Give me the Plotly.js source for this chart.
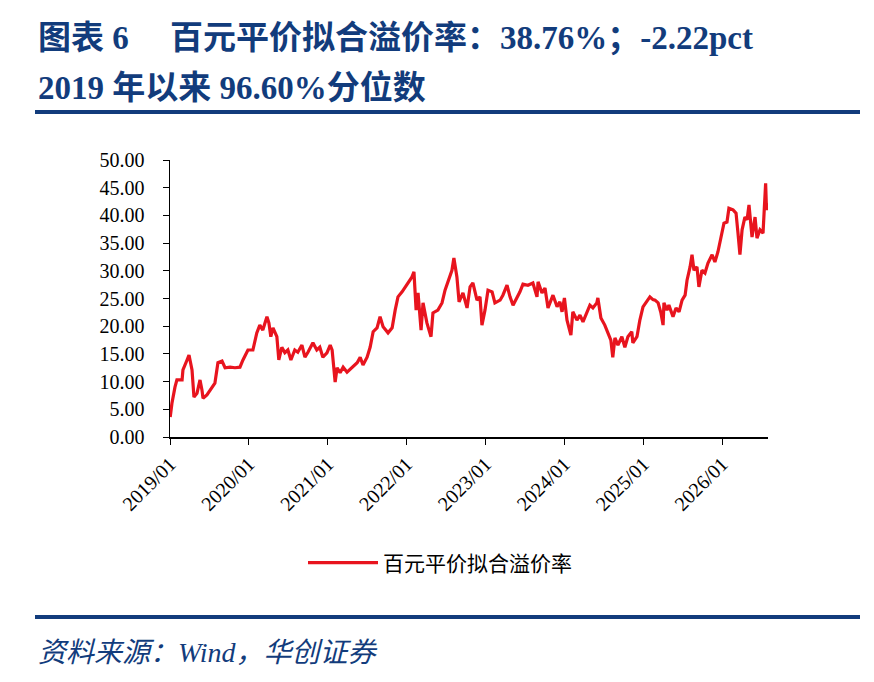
<!DOCTYPE html>
<html>
<head>
<meta charset="utf-8">
<script src="https://cdn.plot.ly/plotly-3.0.1.min.js"></script>
<style>
  html, body { margin: 0; padding: 0; background: #fff; }
  #chart { width: 874px; height: 682px; }
</style>
</head>
<body>
<div id="chart"></div>
<script>
// 百元平价拟合溢价率 (%)
const dates = [
  "2019-01-02","2019-01-10","2019-01-24","2019-02-02","2019-02-26","2019-03-02","2019-03-21","2019-03-30",
  "2019-04-13","2019-04-22","2019-05-06","2019-05-20","2019-05-29","2019-06-03","2019-06-21","2019-07-14",
  "2019-07-28","2019-08-11","2019-08-30","2019-09-13","2019-10-06","2019-10-29","2019-11-21","2019-12-05",
  "2019-12-28","2020-01-20","2020-02-07","2020-02-21","2020-03-06","2020-03-25","2020-04-03","2020-04-12",
  "2020-04-22","2020-05-10","2020-05-19","2020-06-02","2020-06-16","2020-06-30","2020-07-14","2020-08-01",
  "2020-08-15","2020-09-03","2020-09-17","2020-10-01","2020-10-24","2020-11-11","2020-11-25","2020-12-09",
  "2020-12-28","2021-01-12","2021-01-21","2021-02-04","2021-02-13","2021-02-27","2021-03-13","2021-03-31",
  "2021-04-23","2021-05-17","2021-05-31","2021-06-13","2021-07-02","2021-07-16","2021-07-30","2021-08-17",
  "2021-08-31","2021-09-14","2021-10-07","2021-10-26","2021-11-09","2021-11-22","2021-12-11","2021-12-24",
  "2022-01-07","2022-01-26","2022-02-04","2022-02-14","2022-02-23","2022-03-09","2022-03-18","2022-04-05",
  "2022-04-24","2022-05-03","2022-05-26","2022-06-14","2022-06-28","2022-07-12","2022-07-30","2022-08-08",
  "2022-08-22","2022-09-01","2022-09-19","2022-10-08","2022-10-22","2022-11-04","2022-11-23","2022-12-07",
  "2022-12-16","2022-12-30","2023-01-13","2023-02-01","2023-02-14","2023-03-10","2023-03-23","2023-04-11",
  "2023-04-25","2023-05-09","2023-05-27","2023-06-10","2023-06-24","2023-07-17","2023-08-09","2023-08-28",
  "2023-09-02","2023-09-20","2023-10-04","2023-10-18","2023-11-10","2023-11-29","2023-12-12","2023-12-22",
  "2024-01-02","2024-01-14","2024-02-01","2024-02-10","2024-02-29","2024-03-14","2024-03-28","2024-04-15",
  "2024-04-29","2024-05-13","2024-05-31","2024-06-05","2024-06-19","2024-07-07","2024-07-21","2024-08-04",
  "2024-08-13","2024-08-23","2024-09-06","2024-09-24","2024-10-08","2024-10-22","2024-11-09","2024-11-14",
  "2024-12-03","2024-12-16","2024-12-31","2025-01-19","2025-02-01","2025-02-15","2025-02-25","2025-03-11",
  "2025-03-24","2025-04-03","2025-04-07","2025-04-21","2025-04-30","2025-05-19","2025-06-02","2025-06-16",
  "2025-06-30","2025-07-14","2025-07-23","2025-08-06","2025-08-15","2025-08-24","2025-09-07","2025-09-16",
  "2025-09-30","2025-10-14","2025-10-28","2025-11-16","2025-11-29","2025-12-13","2026-01-01","2026-01-10",
  "2026-01-24","2026-02-02","2026-02-21","2026-03-07","2026-03-16","2026-03-25","2026-04-04","2026-04-17",
  "2026-04-27","2026-05-06","2026-05-20","2026-06-03","2026-06-12","2026-06-26","2026-07-10","2026-07-14",
  "2026-07-22","2026-07-26","2026-08-01"
];

const premium = [
  3.6, 6.1, 9.0, 10.3, 10.3, 12.1, 13.9, 14.8,
  12.1, 7.2, 7.9, 10.3, 8.5, 7.0, 7.6, 9.0,
  9.7, 13.4, 13.7, 12.5, 12.6, 12.5, 12.6, 13.9,
  15.7, 15.7, 18.8, 20.2, 19.3, 21.7, 20.6, 18.1,
  19.7, 18.1, 13.9, 16.2, 15.2, 15.7, 13.9, 15.7,
  15.3, 16.6, 14.4, 15.3, 17.0, 15.7, 16.2, 14.4,
  15.2, 16.6, 15.7, 9.9, 12.5, 11.6, 12.6, 11.7,
  12.5, 13.4, 14.4, 13.0, 14.4, 16.2, 19.0, 19.7,
  21.7, 19.9, 18.8, 19.7, 22.9, 25.3, 26.2, 26.9,
  27.8, 28.9, 29.8, 22.9, 26.0, 19.3, 24.2, 20.6,
  18.1, 22.4, 22.9, 24.2, 26.5, 28.0, 30.1, 32.3,
  28.9, 24.4, 26.0, 23.3, 27.1, 27.8, 24.7, 25.3,
  20.2, 22.9, 26.5, 26.2, 24.2, 24.7, 25.6, 27.4,
  25.3, 23.8, 25.1, 26.2, 27.6, 27.4, 27.8, 25.3,
  28.0, 26.0, 26.9, 23.3, 25.6, 23.5, 24.4, 22.6,
  25.1, 21.1, 18.4, 22.6, 21.1, 22.0, 20.8, 22.4,
  23.8, 23.3, 24.2, 25.1, 21.5, 20.2, 19.0, 17.5,
  14.4, 17.9, 16.6, 18.1, 16.2, 18.1, 19.0, 17.0,
  18.1, 21.0, 23.5, 24.7, 25.3, 24.8, 24.7, 24.2,
  22.4, 20.2, 24.2, 22.9, 23.8, 21.7, 23.3, 22.6,
  24.7, 25.6, 28.3, 30.7, 32.9, 30.1, 30.7, 27.1,
  30.1, 29.6, 31.4, 32.9, 31.6, 33.4, 36.8, 38.6,
  38.8, 41.3, 41.0, 40.4, 36.8, 32.9, 37.4, 39.7,
  39.2, 41.9, 36.1, 39.7, 35.9, 37.4, 36.8, 40.4,
  45.8, 41.0, 42.2
];

const seriesName = "百元平价拟合溢价率";
const titleLine1 = "图表 6　 百元平价拟合溢价率：38.76%；-2.22pct";
const titleLine2 = "2019 年以来 96.60%分位数";
const sourceText = "资料来源：Wind，华创证券";

// plot area in pixels: x 170..768, y 160..437
const L = 170, R = 768, T = 160, B = 437;
const px = v => (v - L) / (R - L);
const py = v => (B - v) / (B - T);

const navy = "#123c7c";
const serif = "'Liberation Serif', 'Times New Roman', 'Noto Sans CJK SC', serif";

const trace = {
  x: dates,
  y: premium,
  name: seriesName,
  type: "scatter",
  mode: "lines",
  line: { color: "#e8141e", width: 3.2 }
};

const layout = {
  width: 874,
  height: 682,
  margin: { l: L, r: 874 - R, t: T, b: 682 - B },
  paper_bgcolor: "#fff",
  plot_bgcolor: "#fff",
  showlegend: true,
  legend: {
    orientation: "h",
    x: px(303), y: py(563),
    xanchor: "left", yanchor: "middle",
    itemwidth: 70,
    font: { family: "'Noto Sans CJK SC', sans-serif", size: 21, color: "#000" }
  },
  xaxis: {
    type: "date",
    range: ["2019-01-01", "2026-08-02"],
    tick0: "2019-01-01",
    dtick: "M12",
    tickformat: "%Y/%m",
    tickangle: -45,
    ticks: "outside",
    ticklen: 6,
    tickcolor: "#000",
    showline: true,
    linecolor: "#000",
    linewidth: 1.5,
    showgrid: false,
    zeroline: false,
    tickfont: { family: serif, size: 20, color: "#000" }
  },
  yaxis: {
    range: [0, 50],
    dtick: 5,
    tickformat: ".2f",
    ticks: "outside",
    ticklen: 6,
    tickcolor: "#000",
    ticklabelstandoff: 14,
    showline: true,
    linecolor: "#000",
    linewidth: 1.5,
    showgrid: false,
    zeroline: false,
    tickfont: { family: serif, size: 20, color: "#000" }
  },
  shapes: [
    { type: "line", xref: "paper", yref: "paper", x0: px(35), x1: px(860), y0: py(112), y1: py(112),
      line: { color: navy, width: 4 } },
    { type: "line", xref: "paper", yref: "paper", x0: px(35), x1: px(860), y0: py(617), y1: py(617),
      line: { color: navy, width: 4 } }
  ],
  annotations: [
    { xref: "paper", yref: "paper", x: px(36), y: py(38), xanchor: "left", yanchor: "middle",
      text: "<b>" + titleLine1 + "</b>", showarrow: false,
      font: { family: serif, size: 33, color: navy } },
    { xref: "paper", yref: "paper", x: px(36), y: py(88), xanchor: "left", yanchor: "middle",
      text: "<b>" + titleLine2 + "</b>", showarrow: false,
      font: { family: serif, size: 33, color: navy } },
    { xref: "paper", yref: "paper", x: px(36), y: py(652), xanchor: "left", yanchor: "middle",
      text: "<i>" + sourceText + "</i>", showarrow: false,
      font: { family: serif, size: 28, color: navy } }
  ]
};

Plotly.newPlot("chart", [trace], layout, { displayModeBar: false, staticPlot: true });
</script>
</body>
</html>
